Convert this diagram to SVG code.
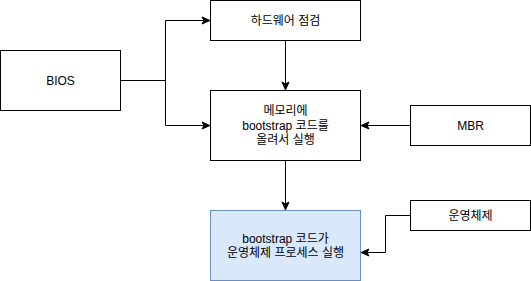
<svg xmlns="http://www.w3.org/2000/svg" width="531" height="281" viewBox="0 0 531 281">
  <style>
    .box { fill: #ffffff; stroke: #000000; stroke-width: 1; }
    .blue { fill: #dae8fc; stroke: #6c8ebf; stroke-width: 1; }
    .lbl { font-family: "Liberation Sans", Arial, "Noto Sans CJK KR", sans-serif; font-size: 12px; fill: #000000; text-anchor: middle; }
    .edge { fill: none; stroke: #000000; stroke-width: 1; marker-end: url(#arrow); }
  </style>
  <defs>
    <marker id="arrow" markerUnits="userSpaceOnUse" markerWidth="10" markerHeight="10" viewBox="0 0 10 10" refX="9" refY="5" orient="auto">
      <path d="M1,1.5 L9,5 L1,8.5 L3,5 Z" fill="#000000" stroke="#000000" stroke-width="1"/>
    </marker>
  </defs>
  <rect width="531" height="281" fill="#ffffff"/>
  <g id="connectors">
    <path class="edge" d="M120.5,80.5 L165.5,80.5 L165.5,20.5 L210,20.5"/>
    <path class="edge" d="M120.5,80.5 L165.5,80.5 L165.5,125.5 L210,125.5"/>
    <path class="edge" d="M285.5,40.5 L285.5,90"/>
    <path class="edge" d="M410.5,125.5 L361,125.5"/>
    <path class="edge" d="M285.5,160.5 L285.5,210"/>
    <path class="edge" d="M410.5,215.5 L385.5,215.5 L385.5,252.5 L361,252.5"/>
  </g>
  <g id="bios">
    <rect class="box" x="0.5" y="50.5" width="120" height="60"/>
    <text class="lbl" x="60.5" y="84.5">BIOS</text>
  </g>
  <g id="hardware-check">
    <rect class="box" x="210.5" y="0.5" width="150" height="40"/>
    <text class="lbl" x="285.5" y="24.5">하드웨어 점검</text>
  </g>
  <g id="load-memory">
    <rect class="box" x="210.5" y="90.5" width="150" height="70"/>
    <text class="lbl" x="285.5" y="115">메모리에</text>
    <text class="lbl" x="285.5" y="129.5">bootstrap 코드를</text>
    <text class="lbl" x="285.5" y="144">올려서 실행</text>
  </g>
  <g id="mbr">
    <rect class="box" x="410.5" y="105.5" width="120" height="40"/>
    <text class="lbl" x="470.5" y="129.5">MBR</text>
  </g>
  <g id="os-run">
    <rect class="blue" x="210.5" y="210.5" width="150" height="70"/>
    <text class="lbl" x="285.5" y="242.5">bootstrap 코드가</text>
    <text class="lbl" x="285.5" y="257">운영체제 프로세스 실행</text>
  </g>
  <g id="os">
    <rect class="box" x="410.5" y="200.5" width="120" height="30"/>
    <text class="lbl" x="470.5" y="219.5">운영체제</text>
  </g>
</svg>
